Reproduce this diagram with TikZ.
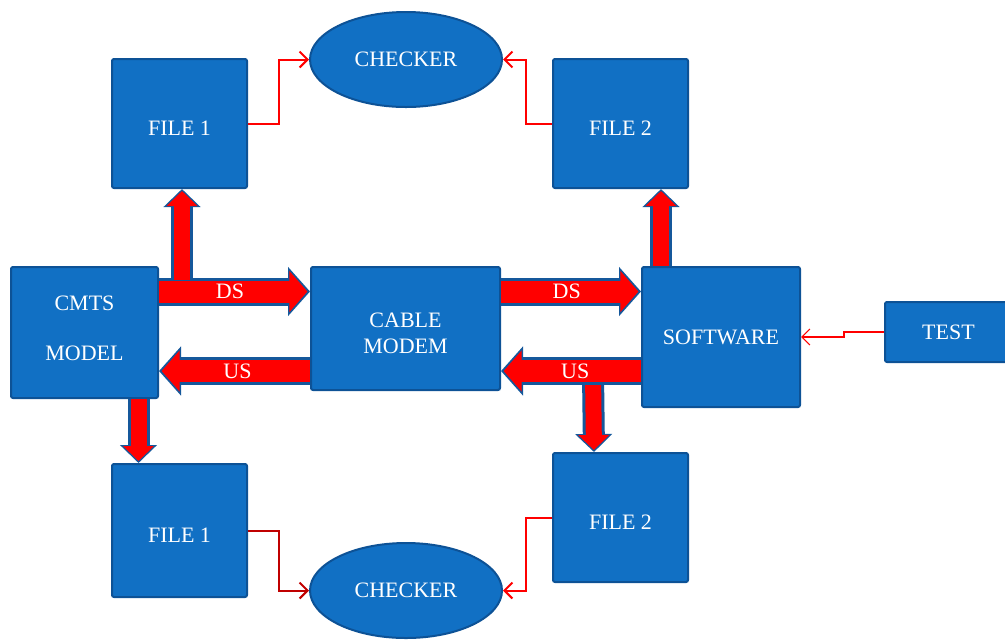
\documentclass[tikz,border=0pt]{standalone}
\usepackage{fontspec}
\setmainfont{Liberation Serif}
\usetikzlibrary{arrows.meta,calc,shapes.geometric}
\definecolor{boxfill}{HTML}{1170C4}
\definecolor{boxline}{HTML}{0D5296}
\definecolor{arrline}{HTML}{15589B}
\definecolor{darkred}{HTML}{C00000}

\begin{document}
\begin{tikzpicture}[x=0.5pt, y=-0.5pt,
  box/.style={draw=boxline, line width=1pt, fill=boxfill, rounded corners=1pt,
              text=white, font=\fontsize{11}{13}\selectfont, align=center},
  filebox/.style={box, minimum width=67.5pt, minimum height=64.5pt, text height=12pt},
  chk/.style={ellipse, draw=boxline, line width=1pt, fill=boxfill, text=white,
              font=\fontsize{11}{13}\selectfont, minimum width=96pt, minimum height=47.5pt, inner sep=0pt},
  lbl/.style={text=white, font=\fontsize{11}{13}\selectfont, inner sep=0pt},
  fat/.style={line width=11pt, red, -{Triangle[width=20pt,length=9pt]}, shorten >=1.3pt,
              preaction={draw=arrline, line width=14pt, -{Triangle[width=24pt,length=11pt]}, shorten >=0pt}},
  vfat/.style={line width=8pt, red, -{Triangle[width=15pt,length=7.5pt]}, shorten >=1pt,
              preaction={draw=arrline, line width=11pt, -{Triangle[width=18pt,length=9pt]}, shorten >=0pt}},
  lnk/.style={red, line width=1pt, -{Straight Barb[length=4pt,width=8pt]}}]
  \useasboundingbox (0,0) rectangle (1005,639);
  \node[filebox] (file1t) at (179.5,123.5) {FILE 1};
  \node[filebox] (file2t) at (620.5,123.5) {FILE 2};
  \node[box, minimum width=73.5pt, minimum height=65.5pt, text depth=4pt] (cmts) at (84.5,332.5) {CMTS\\[12pt]MODEL};
  \node[box, minimum width=94.5pt, minimum height=61.5pt, text height=25pt] (modem) at (405.5,328.5) {CABLE\\MODEM};
  \node[box, minimum width=79pt, minimum height=70pt] (soft) at (721,337) {SOFTWARE};
  \node[box, minimum width=63.5pt, minimum height=30pt] (test) at (948.5,332) {TEST};
  \node[filebox, minimum height=66.5pt] (file1b) at (179.5,530.5) {FILE 1};
  \node[filebox] (file2b) at (620.5,517.5) {FILE 2};
  \node[chk] (chkt) at (406,59.5) {CHECKER};
  \node[chk] (chkb) at (406,590.5) {CHECKER};
  % DS / US
  \draw[fat] ($(cmts.north east)+(0,25.5)$) -- node[lbl,pos=0.47]{DS} ($(modem.north west)+(0,25.5)$);
  \draw[fat] ($(modem.north west)+(0,105)$) -- node[lbl,pos=0.48]{US} ($(cmts.north east)+(0,105)$);
  \draw[fat] ($(modem.north east)+(0,25.5)$) -- node[lbl,pos=0.47]{DS} ($(soft.north west)+(0,25.5)$);
  \draw[vfat] ($(soft.north west)+(-48,108)$) -- ($(file2b.north)+(-26.5,0)$);
  \draw[fat] ($(soft.north west)+(0,105)$) -- node[lbl,pos=0.47]{US} ($(modem.north east)+(0,105)$);
  % to the files
  \draw[vfat] ($(file1t.south |- cmts.north)+(2.5,14)$) -- ($(file1t.south)+(2.5,0)$);
  \draw[vfat] ($(cmts.south)+(54,0)$) -- ($(file1b.north)+(-41,0)$);
  \draw[vfat] ($(soft.north)+(-60,0)$) -- ($(file2t.south)+(40.5,0)$);
  % checkers and test
  \draw[lnk] (file1t.east) -- ++(31,0) |- (chkt.west);
  \draw[lnk] (file2t.west) -- ++(-26,0) |- (chkt.east);
  \draw[lnk, darkred] (file1b.east) -- ++(31,0) |- (chkb.west);
  \draw[lnk] (file2b.west) -- ++(-26,0) |- (chkb.east);
  \draw[lnk, line width=0.6pt] (test.west) -- ++(-40,0) |- (soft.east);
\end{tikzpicture}
\end{document}
